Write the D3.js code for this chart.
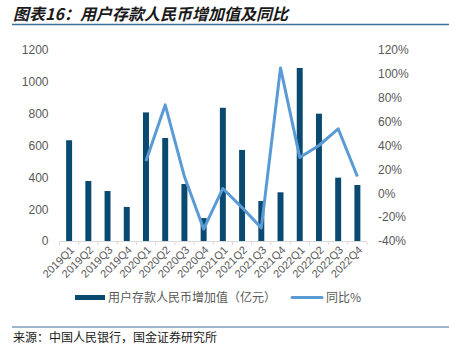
<!DOCTYPE html>
<html><head><meta charset="utf-8">
<script src="https://cdn.jsdelivr.net/npm/d3@7"></script>
<style>
body{margin:0;background:#fff;}
svg{display:block;font-family:"Noto Sans CJK SC","Noto Sans",sans-serif;}
</style></head>
<body><svg id="c" width="449" height="345"></svg>
<script>
const categories = ["2019Q1","2019Q2","2019Q3","2019Q4","2020Q1","2020Q2","2020Q3","2020Q4","2021Q1","2021Q2","2021Q3","2021Q4","2022Q1","2022Q2","2022Q3","2022Q4"];
const depositIncrease = [633,377,314,214,808,647,358,144,837,572,251,306,1087,800,398,352];
const yoyPct = [null,null,null,null,27,74,14,-30,4,-12,-29,105,30,40,54,14];
const leftTicks = [0,200,400,600,800,1000,1200];
const rightTicks = [-40,-20,0,20,40,60,80,100,120];
const titleText = "图表16：用户存款人民币增加值及同比";
const sourceText = "来源：中国人民银行，国金证券研究所";
const legendBar = "用户存款人民币增加值（亿元）";
const legendLine = "同比%";

(function(){
const svg = d3.select("#c");
const pL = 59.5, pR = 367, pT = 50, pB = 241;
const x = d3.scaleBand().domain(categories).range([pL,pR]).paddingInner(0.69).paddingOuter(0.345);
const yL = d3.scaleLinear().domain([0,1200]).range([pB,pT]);
const yR = d3.scaleLinear().domain([-40,120]).range([pB,pT]);
const grey = "#595959";

// title
svg.append("text").attr("x",13).attr("y",20).attr("font-size",16).attr("font-weight","bold")
  .attr("font-style","italic").attr("fill","#1a1a1a").text(titleText);
svg.append("line").attr("x1",12).attr("x2",449).attr("y1",24.5).attr("y2",24.5)
  .attr("stroke","#3f6f9a").attr("stroke-width",1.5);

// left axis labels
const gl = svg.append("g").attr("transform",`translate(${pL-11},0)`)
  .call(d3.axisLeft(yL).tickValues(leftTicks).tickFormat(d=>String(d)).tickSize(0).tickPadding(0));
gl.select(".domain").remove();
gl.selectAll("text").attr("fill",grey).attr("font-size",12).attr("font-family","Liberation Sans, Arial, sans-serif");

// right axis labels
const gr = svg.append("g").attr("transform",`translate(${pR+11},0)`)
  .call(d3.axisRight(yR).tickValues(rightTicks).tickFormat(d=>d+"%").tickSize(0).tickPadding(0));
gr.select(".domain").remove();
gr.selectAll("text").attr("fill",grey).attr("font-size",12).attr("font-family","Liberation Sans, Arial, sans-serif");

// bars
svg.append("g").selectAll("rect").data(categories).join("rect")
  .attr("x",d=>x(d)).attr("width",x.bandwidth())
  .attr("y",(d,i)=>yL(depositIncrease[i])).attr("height",(d,i)=>pB-yL(depositIncrease[i]))
  .attr("fill","#0b4a70");

// x axis line & ticks
svg.append("line").attr("x1",pL).attr("x2",pR).attr("y1",pB+0.5).attr("y2",pB+0.5)
  .attr("stroke","#d9d9d9").attr("stroke-width",1);
const step = x.step();
svg.append("g").selectAll("line").data(d3.range(categories.length+1)).join("line")
  .attr("x1",i=>pL+i*step).attr("x2",i=>pL+i*step).attr("y1",pB+0.5).attr("y2",pB+4)
  .attr("stroke","#d9d9d9");

// x labels
svg.append("g").selectAll("text").data(categories).join("text")
  .attr("transform",d=>`translate(${x(d)+x.bandwidth()/2+3},${pB+7}) rotate(-45)`)
  .attr("text-anchor","end").attr("dy","0.35em").attr("font-size",11).attr("fill",grey)
  .attr("font-family","Liberation Sans, Arial, sans-serif").text(d=>d);

// line
const pts = categories.map((c,i)=>({c,v:yoyPct[i]})).filter(d=>d.v!==null);
svg.append("path").datum(pts)
  .attr("d",d3.line().x(d=>x(d.c)+x.bandwidth()/2).y(d=>yR(d.v)))
  .attr("fill","none").attr("stroke","#5b9bd5").attr("stroke-width",3).attr("stroke-linejoin","round");

// legend
svg.append("rect").attr("x",75).attr("y",295).attr("width",30).attr("height",5).attr("fill","#0b4a70");
svg.append("text").attr("x",108).attr("y",302).attr("font-size",12).attr("fill",grey).text(legendBar);
svg.append("line").attr("x1",292).attr("x2",322).attr("y1",297.5).attr("y2",297.5)
  .attr("stroke","#5b9bd5").attr("stroke-width",3).attr("stroke-linecap","round");
svg.append("text").attr("x",326).attr("y",302).attr("font-size",12).attr("fill",grey).text(legendLine);

// footer
svg.append("line").attr("x1",12).attr("x2",449).attr("y1",327).attr("y2",327)
  .attr("stroke","#3f6f9a").attr("stroke-width",1);
svg.append("text").attr("x",13).attr("y",342).attr("font-size",12).attr("fill","#1a1a1a").text(sourceText);
})();
</script></body></html>
